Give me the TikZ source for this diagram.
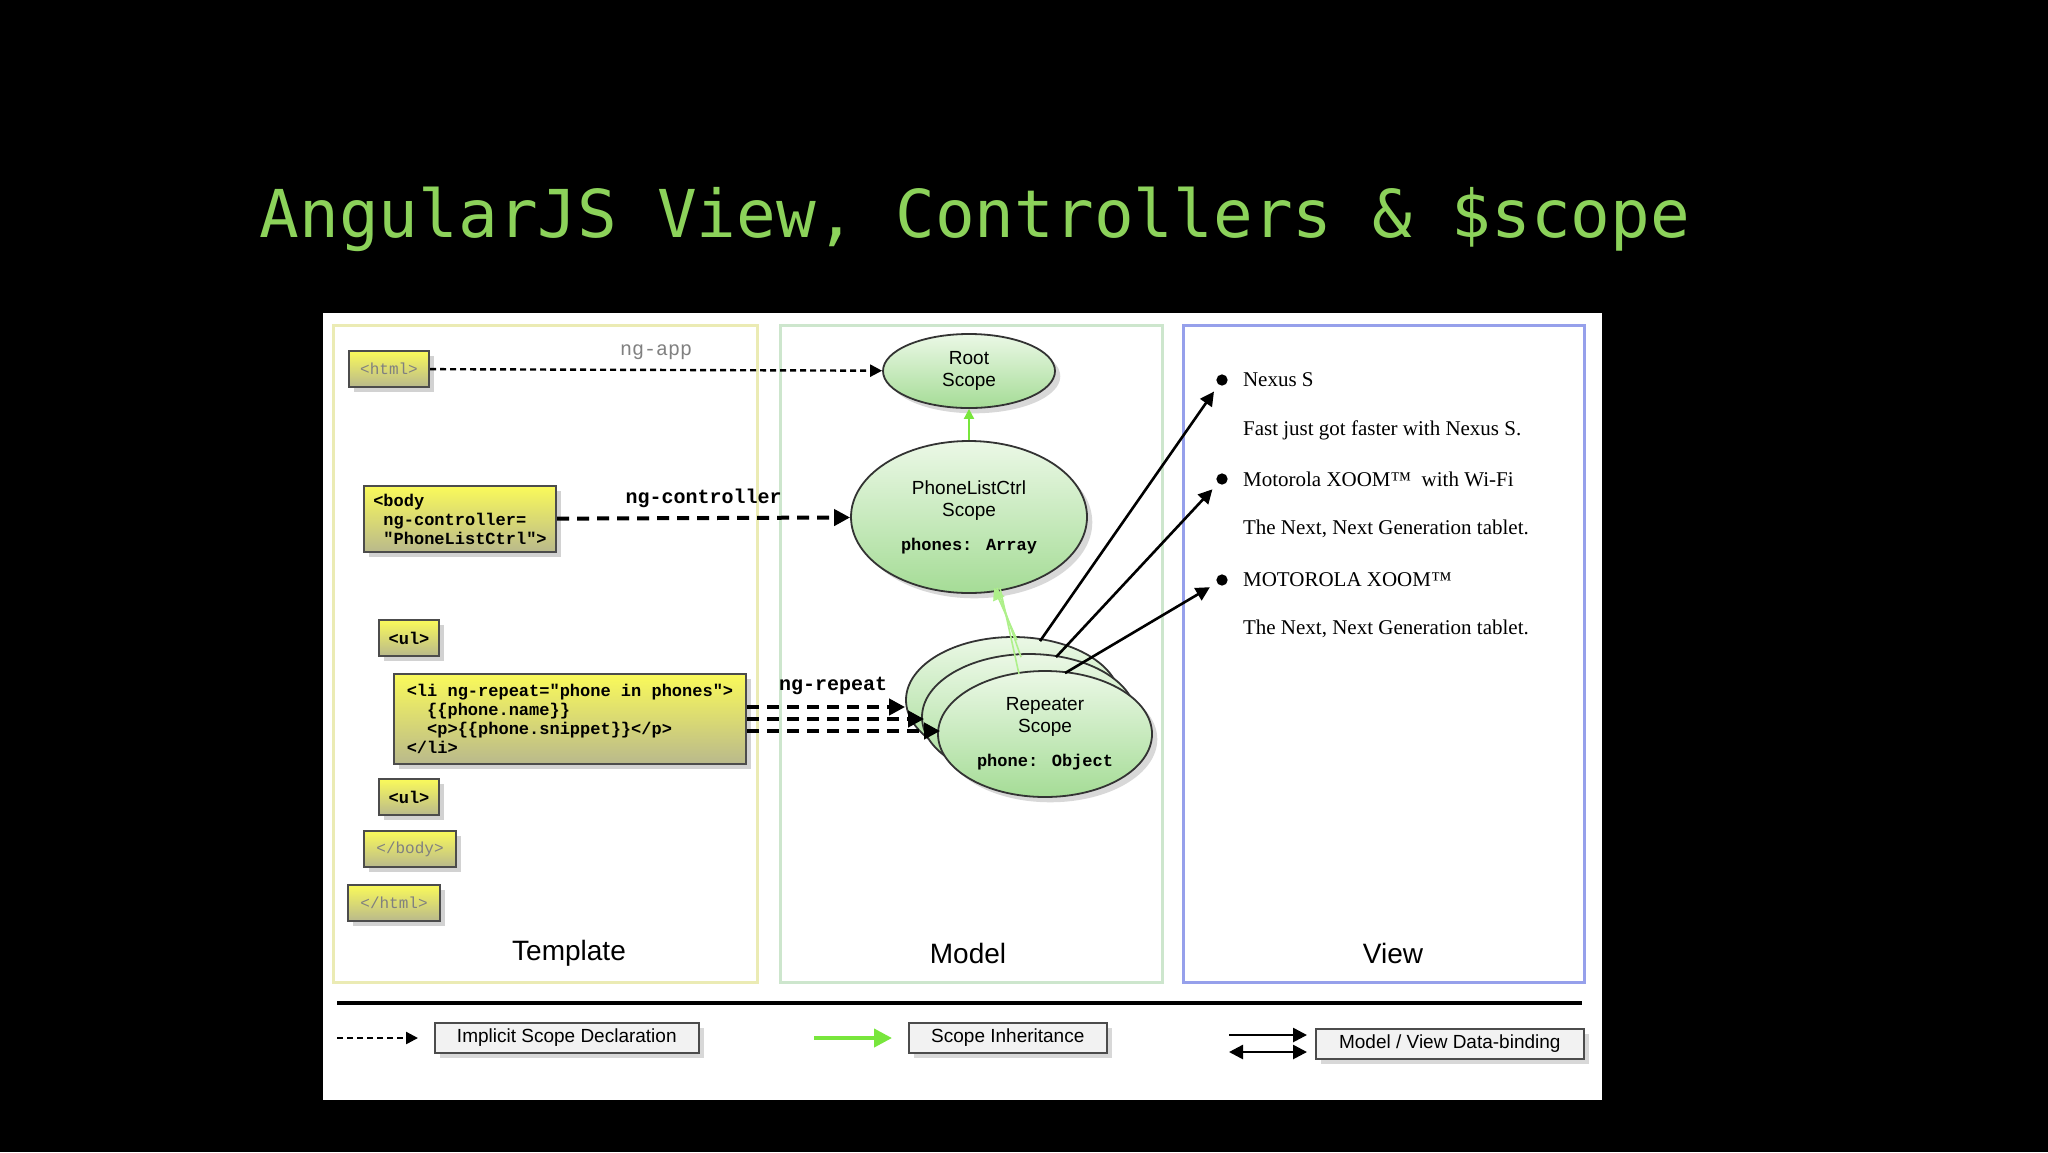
\documentclass[tikz,border=0pt]{standalone}
\usepackage{fontspec}
\setmainfont{Liberation Sans}
\newfontfamily\mono{DejaVu Sans Mono}
\newfontfamily\cmono{Liberation Mono}
\newfontfamily\serifv{Liberation Serif}
\usetikzlibrary{arrows.meta,shadows,calc,shapes.geometric}
\definecolor{titlegreen}{RGB}{140,210,90}
\definecolor{ybox}{RGB}{250,250,90}
\definecolor{ybot}{RGB}{185,185,140}
\definecolor{gtop}{RGB}{235,248,230}
\definecolor{gbot}{RGB}{165,220,150}
\definecolor{tborder}{RGB}{235,235,180}
\definecolor{mborder}{RGB}{205,230,205}
\definecolor{vborder}{RGB}{150,160,235}
\definecolor{inh}{RGB}{120,230,60}
\tikzset{
 tag/.style={draw=black!70,line width=1pt,top color=ybox,bottom color=ybot,drop shadow={opacity=0.35},font=\cmono\bfseries\fontsize{8.5}{9.5}\selectfont,inner sep=2.5pt},
 scp/.style={ellipse,draw=black!80,line width=0.9pt,top color=gtop,bottom color=gbot,drop shadow={opacity=0.3},align=center,font=\fontsize{9.5}{11}\selectfont},
 decl/.style={line width=1.2pt,-{Triangle[length=6pt,width=6pt]},dash pattern=on 3pt off 2pt},
 bigdecl/.style={line width=2pt,-{Triangle[length=8pt,width=8pt]},dash pattern=on 6pt off 4pt},
 bind/.style={line width=1.3pt,-{Triangle[length=7pt,width=7pt]}},
 lbl/.style={font=\cmono\bfseries\fontsize{10}{12}\selectfont},
 leg/.style={draw=black!70,line width=0.8pt,fill=black!5,drop shadow={opacity=0.3},font=\fontsize{9.5}{11}\selectfont,inner sep=3pt},
 vtext/.style={anchor=west,font=\serifv\fontsize{10.5}{12}\selectfont},
 panel/.style={line width=1.5pt}
}
\begin{document}
\begin{tikzpicture}[x=0.5pt,y=-0.5pt]
\useasboundingbox[fill=black] (0,0) rectangle (2048,1152);
\node[text=titlegreen,font=\mono\fontsize{33}{36}\selectfont] (title) at (975,219) {AngularJS View, Controllers \& \$scope};
\fill[white] (323,313) rectangle (1602,1100);
\draw[panel,draw=tborder] (333,325) rectangle (757,982);
\draw[panel,draw=mborder] (780,325) rectangle (1162,982);
\draw[panel,draw=vborder] (1183,325) rectangle (1584,982);
\node[font=\fontsize{14}{16}\selectfont] (tl) at (569,953) {Template};
\node[font=\fontsize{14}{16}\selectfont] (ml) at (968,953) {Model};
\node[font=\fontsize{14}{16}\selectfont] (vl) at (1393,953) {View};
% template tags
\node[tag,minimum width=40pt,minimum height=18pt,text=black!50,font=\cmono\fontsize{8}{9}\selectfont] (html) at (389,369) {<html>};
\node[tag,anchor=north west,align=left,minimum width=96pt,minimum height=33pt] (body) at (363,485) {<body\\ \ ng-controller=\\ \ "PhoneListCtrl">};
\node[tag,minimum width=30pt,minimum height=18pt] (ul1) at (409,638) {<ul>};
\node[tag,anchor=north west,align=left,minimum width=176pt,minimum height=45pt] (li) at (393,673) {<li ng-repeat="phone in phones">\\ \ \ \{\{phone.name\}\}\\ \ \ <p>\{\{phone.snippet\}\}</p>\\</li>};
\node[tag,minimum width=30pt,minimum height=18pt] (ul2) at (409,797) {<ul>};
\node[tag,minimum width=46pt,minimum height=18pt,text=black!50,font=\cmono\fontsize{8}{9}\selectfont] (ebody) at (410,849) {</body>};
\node[tag,minimum width=46pt,minimum height=18pt,text=black!50,font=\cmono\fontsize{8}{9}\selectfont] (ehtml) at (394,903) {</html>};
% model
\node[scp,minimum width=86pt,minimum height=34pt] (root) at (969,371) {Root\\Scope};
\node[scp,minimum width=118pt,minimum height=76pt] (plc) at (969,517) {PhoneListCtrl\\Scope\\[6pt]{\cmono\bfseries\fontsize{8.5}{10}\selectfont phones: Array}};
\node[scp,minimum width=107pt,minimum height=63pt] (r1) at (1013,700) {};
\node[scp,minimum width=107pt,minimum height=63pt] (r2) at (1029,717) {};
\node[scp,minimum width=107pt,minimum height=63pt] (r3) at (1045,734) {Repeater\\Scope\\[6pt]{\cmono\bfseries\fontsize{8.5}{10}\selectfont phone: Object}};
% inheritance
\draw[inh,line width=1pt,-{Triangle[length=5pt,width=5pt]}] (root.south |- plc.north) -- (root.south);
\draw[inh!60,line width=0.8pt,-{Triangle[length=6pt,width=6pt]}] ($(r1.north)+(4,4)$) -- ($(plc.south)+(25,-6)$);
\draw[inh!60,line width=0.8pt] ($(r2.north)+(-8,4)$) -- ($(plc.south)+(28,-6)$);
\draw[inh!60,line width=0.8pt] ($(r3.north)+(-26,4)$) -- ($(plc.south)+(31,-6)$);
% declarations
\draw[decl] (html) -- node[above=1pt,font=\cmono\fontsize{10}{12}\selectfont,text=black!50] (ngapp) {ng-app} (root);
\draw[bigdecl] (body) -- node[lbl,above=1pt] (ngc) {ng-controller} (plc);
\coordinate (lia) at ($(li.east)+(0,-12)$);
\coordinate (lib) at (li.east);
\coordinate (lic) at ($(li.east)+(0,12)$);
\draw[bigdecl] (lia) -- (r1.west |- lia) ;
\draw[bigdecl] (lib) -- ($(r2.west |- lib)+(3,0)$);
\draw[bigdecl] (lic) -- ($(r3.west |- lic)+(3,0)$);
\node[lbl] (ngr) at (833,686) {ng-repeat};
% view
\node[circle,fill=black,inner sep=2pt] (b1) at (1222,380) {};
\node[circle,fill=black,inner sep=2pt] (b2) at (1222,479) {};
\node[circle,fill=black,inner sep=2pt] (b3) at (1222,580) {};
\node[vtext] (t1) at (1236,380) {Nexus S};
\node[vtext] (t2) at (1236,430) {Fast just got faster with Nexus S.};
\node[vtext] (t3) at (1236,479) {Motorola XOOM™ \ with Wi-Fi};
\node[vtext] (t4) at (1236,529) {The Next, Next Generation tablet.};
\node[vtext] (t5) at (1236,580) {MOTOROLA XOOM™};
\node[vtext] (t6) at (1236,629) {The Next, Next Generation tablet.};
\draw[bind,shorten >=4pt] ($(r1.north)+(27,5)$) -- (b1);
\draw[bind,shorten >=4pt] ($(r2.north)+(27,4)$) -- (b2);
\draw[bind,shorten >=4pt] ($(r3.north)+(20,3)$) -- (b3);
% legend
\draw[line width=2pt] (337,1003) -- (1582,1003);
\coordinate (la) at (337,1038);
\node[leg,anchor=west,minimum width=132pt] (lg1) at (434,1038) {Implicit Scope Declaration};
\draw[decl] (la) -- ($(lg1.west)+(-16,0)$);
\coordinate (lb) at (814,1038);
\node[leg,anchor=west,minimum width=99pt] (lg2) at (908,1038) {Scope Inheritance};
\draw[inh,line width=2pt,-{Triangle[length=9pt,width=9pt]}] (lb) -- ($(lg2.west)+(-16,0)$);
\node[leg,anchor=west,minimum width=134pt] (lg3) at (1315,1044) {Model / View Data-binding};
\coordinate (lc1) at (1229,1035);
\coordinate (lc2) at (1229,1052);
\draw[bind] (lc1) -- ($(lg3.west |- lc1)+(-8,0)$);
\draw[line width=1.3pt,{Triangle[length=7pt,width=7pt]}-{Triangle[length=7pt,width=7pt]}] (lc2) -- ($(lg3.west |- lc2)+(-8,0)$);
\end{tikzpicture}
\end{document}
